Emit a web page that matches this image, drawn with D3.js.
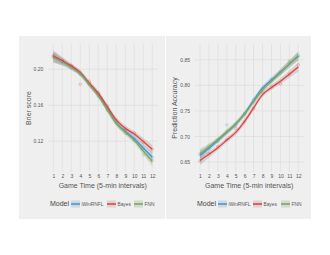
<!DOCTYPE html>
<html>
<head>
<meta charset="utf-8">
<script src="https://cdn.jsdelivr.net/npm/d3@7"></script>
<style>
  body { margin: 0; background: #fff; }
  svg text { font-family: "Liberation Sans", Arial, sans-serif; }
</style>
</head>
<body>
<div id="chart"></div>
<script>
// game time intervals
const gameTime = [1, 2, 3, 4, 5, 6, 7, 8, 9, 10, 11, 12];
const models = ["iWinRNFL", "Bayes", "FNN"];
const modelColors = ["#3b9ae0", "#f03a3a", "#78ad52"];

// Brier score: smoothed fit, raw points, ribbon half width
const brierFitIWin = [0.2135, 0.2085, 0.2025, 0.1955, 0.1835, 0.1715, 0.1560, 0.1405, 0.1310, 0.1230, 0.1125, 0.1025];
const brierFitBayes = [0.2150, 0.2095, 0.2037, 0.1960, 0.1844, 0.1733, 0.1585, 0.1438, 0.1345, 0.1280, 0.1197, 0.1112];
const brierFitFNN = [0.2133, 0.2080, 0.2020, 0.1950, 0.1830, 0.1705, 0.1550, 0.1400, 0.1300, 0.1210, 0.1090, 0.0975];
const brierRawIWin = [0.2140, 0.2080, 0.2030, 0.1960, 0.1840, 0.1720, 0.1550, 0.1400, 0.1320, 0.1225, 0.1120, 0.1020];
const brierRawBayes = [0.2155, 0.2100, 0.2040, 0.1833, 0.1867, 0.1740, 0.1590, 0.1430, 0.1340, 0.1290, 0.1190, 0.1110];
const brierRawFNN = [0.2130, 0.2085, 0.2015, 0.1945, 0.1835, 0.1700, 0.1545, 0.1410, 0.1290, 0.1205, 0.1050, 0.0985];
const brierBand = [0.006, 0.004, 0.003, 0.003, 0.003, 0.003, 0.003, 0.003, 0.003, 0.003, 0.004, 0.005];
const brierTicks = [0.12, 0.16, 0.20];

// Prediction accuracy
const accFitIWin = [0.663, 0.677, 0.692, 0.708, 0.724, 0.745, 0.771, 0.795, 0.811, 0.826, 0.842, 0.857];
const accFitBayes = [0.653, 0.665, 0.678, 0.693, 0.708, 0.730, 0.756, 0.782, 0.796, 0.808, 0.822, 0.836];
const accFitFNN = [0.666, 0.680, 0.694, 0.709, 0.725, 0.744, 0.768, 0.791, 0.808, 0.825, 0.842, 0.858];
const accRawIWin = [0.664, 0.676, 0.690, 0.7225, 0.722, 0.744, 0.772, 0.794, 0.812, 0.825, 0.843, 0.858];
const accRawBayes = [0.652, 0.666, 0.680, 0.694, 0.716, 0.729, 0.755, 0.785, 0.797, 0.803, 0.822, 0.840];
const accRawFNN = [0.667, 0.681, 0.693, 0.710, 0.724, 0.745, 0.767, 0.790, 0.809, 0.826, 0.848, 0.857];
const accBand = [0.009, 0.006, 0.005, 0.005, 0.005, 0.005, 0.005, 0.005, 0.005, 0.006, 0.007, 0.009];
const accTicks = [0.65, 0.70, 0.75, 0.80, 0.85];

const width = 330, height = 255;

const svg = d3.select("#chart").append("svg")
    .attr("width", width)
    .attr("height", height);

// panel backgrounds
svg.append("rect").attr("x", 19).attr("y", 36).attr("width", 146).attr("height", 183).attr("fill", "#efefef");
svg.append("rect").attr("x", 166).attr("y", 36).attr("width", 145).attr("height", 183).attr("fill", "#efefef");

function drawPanel(opt) {
    const g = svg.append("g");
    const x = d3.scaleLinear().domain([1, 12]).range(opt.xRange);
    const y = d3.scaleLinear().domain(opt.yDomain).range([171.7, 44]);
    const x0 = x(0.45), x1 = x(12.55);
    const curve = d3.curveCatmullRom.alpha(0.5);

    // grid
    g.selectAll(".vgrid").data(gameTime).enter().append("line")
        .attr("x1", d => x(d)).attr("x2", d => x(d))
        .attr("y1", 44).attr("y2", 171.7)
        .attr("stroke", "#dadada").attr("stroke-width", 0.6);
    g.selectAll(".hgrid").data(opt.ticks).enter().append("line")
        .attr("x1", x0).attr("x2", x1)
        .attr("y1", d => y(d)).attr("y2", d => y(d))
        .attr("stroke", "#dadada").attr("stroke-width", 0.6);

    // ribbons
    opt.fits.forEach(fit => {
        const area = d3.area()
            .x((d, i) => x(gameTime[i]))
            .y0((d, i) => y(d - opt.band[i]))
            .y1((d, i) => y(d + opt.band[i]))
            .curve(curve);
        g.append("path").datum(fit).attr("d", area)
            .attr("fill", "#999").attr("opacity", 0.33);
    });

    // raw points
    opt.raws.forEach((raw, k) => {
        g.selectAll(null).data(raw).enter().append("circle")
            .attr("cx", (d, i) => x(gameTime[i]))
            .attr("cy", d => y(d))
            .attr("r", 1.3)
            .attr("fill", "none")
            .attr("stroke", modelColors[k])
            .attr("stroke-width", 0.5)
            .attr("opacity", 0.6);
    });

    // smooth lines
    opt.fits.forEach((fit, k) => {
        const line = d3.line()
            .x((d, i) => x(gameTime[i]))
            .y(d => y(d))
            .curve(curve);
        g.append("path").datum(fit).attr("d", line)
            .attr("fill", "none").attr("stroke", modelColors[k]).attr("stroke-width", 1.3);
    });

    // axes
    const xAxis = g.append("g").attr("transform", "translate(0,171.7)")
        .call(d3.axisBottom(x).tickValues(gameTime).tickSize(0).tickPadding(3));
    xAxis.select(".domain").remove();
    xAxis.selectAll("text").attr("font-size", 5).attr("fill", "#555");

    const yAxis = g.append("g").attr("transform", `translate(${x0},0)`)
        .call(d3.axisLeft(y).tickValues(opt.ticks).tickFormat(d3.format(".2f")).tickSize(0).tickPadding(5));
    yAxis.select(".domain").remove();
    yAxis.selectAll("text").attr("font-size", 5).attr("fill", "#555");

    g.append("text")
        .attr("x", (x0 + x1) / 2).attr("y", 188)
        .attr("text-anchor", "middle").attr("font-size", 7).attr("fill", "#555")
        .text("Game Time (5-min intervals)");
    g.append("text")
        .attr("transform", `translate(${opt.yTitleX},108) rotate(-90)`)
        .attr("text-anchor", "middle").attr("font-size", 7).attr("fill", "#555")
        .text(opt.yTitle);

    // legend
    const lg = g.append("g").attr("transform", `translate(${opt.legendX},204)`);
    lg.append("text").attr("x", 0).attr("y", 2.4)
        .attr("font-size", 7).attr("fill", "#444").text("Model");
    const keyX = [21, 57, 84];
    if (opt.legendX > 100) { keyX[1] = 56; keyX[2] = 84; }
    models.forEach((m, k) => {
        lg.append("rect").attr("x", keyX[k]).attr("y", -3.5).attr("width", 9).attr("height", 7)
            .attr("fill", "#d6d6d6");
        lg.append("line").attr("x1", keyX[k]).attr("x2", keyX[k] + 9)
            .attr("y1", 0).attr("y2", 0)
            .attr("stroke", modelColors[k]).attr("stroke-width", 1.6);
        lg.append("text").attr("x", keyX[k] + 10.5).attr("y", 1.8)
            .attr("font-size", 4.8).attr("fill", "#555").text(m);
    });
}

drawPanel({
    xRange: [53.3, 152.3],
    yDomain: [0.0862, 0.228],
    ticks: brierTicks,
    fits: [brierFitIWin, brierFitBayes, brierFitFNN],
    raws: [brierRawIWin, brierRawBayes, brierRawFNN],
    band: brierBand,
    yTitle: "Brier score",
    yTitleX: 31,
    legendX: 50
});

drawPanel({
    xRange: [200, 298.3],
    yDomain: [0.631, 0.881],
    ticks: accTicks,
    fits: [accFitIWin, accFitBayes, accFitFNN],
    raws: [accRawIWin, accRawBayes, accRawFNN],
    band: accBand,
    yTitle: "Prediction Accuracy",
    yTitleX: 177,
    legendX: 197
});
</script>
</body>
</html>
